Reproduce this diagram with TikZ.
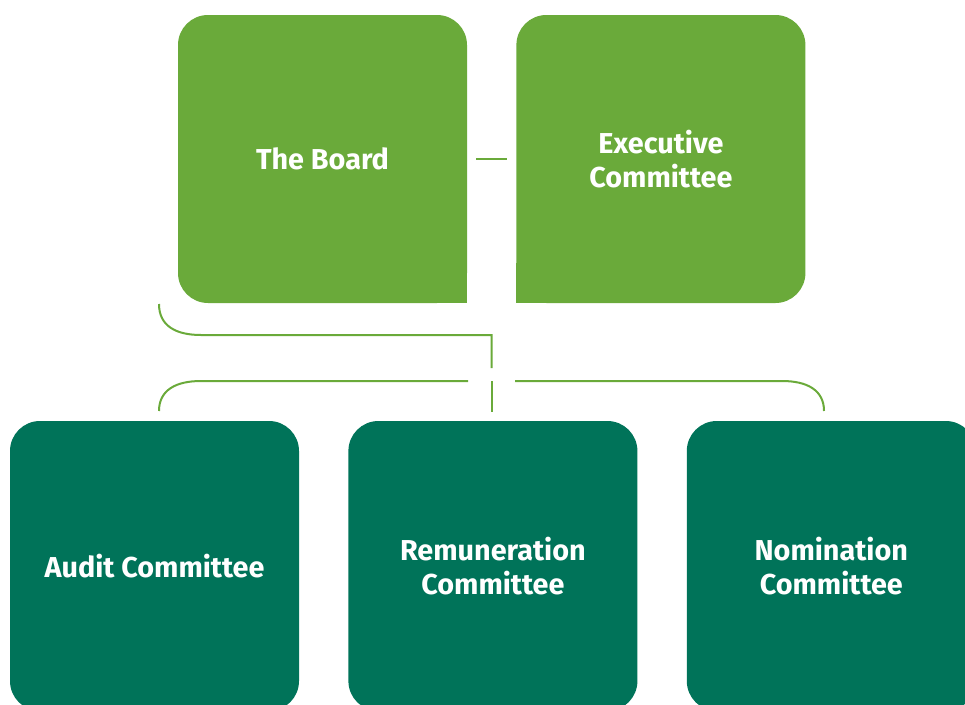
\documentclass[tikz,border=0pt]{standalone}
\usepackage{fontspec}
\setmainfont{Fira Sans}
\usepackage{xcolor}
\usepackage{tikz}
\usetikzlibrary{positioning}
\definecolor{boardgreen}{RGB}{106,170,58}
\definecolor{cttgreen}{RGB}{0,115,89}

\begin{document}
\begin{tikzpicture}[x=1pt, y=-1pt, node distance=49pt]
    \tikzstyle{topbox} = [rectangle, fill=boardgreen, text=white, align=center, rounded corners=30pt, minimum width=289pt, minimum height=288pt, inner sep=0pt, font=\fontsize{28.8}{34}\selectfont\bfseries]
    \tikzstyle{subbox} = [topbox, fill=cttgreen, minimum height=290pt]
    \tikzstyle{link} = [draw=boardgreen, line width=2pt]

    \useasboundingbox (0,0) rectangle (965,704);
    \clip (0,0) rectangle (965,704);

    \node [topbox] (board) at (322.5,159) {The Board};
    \node [topbox, right=of board] (exec) {Executive\\Committee};
    \fill [boardgreen] (board.south east) rectangle +(-40,-40);
    \fill [boardgreen] (exec.south west) rectangle +(40,-40);

    \node [subbox] (audit) at (154.5,566) {Audit Committee};
    \node [subbox, right=of audit] (remun) {Remuneration\\Committee};
    \node [subbox, right=of remun] (nomin) {Nomination\\Committee};

    % connector ends
    \coordinate (boardfoot) at (159,304);
    \coordinate (boardjoin) at (491.5,335);
    \coordinate (gapup) at (491.5,368);
    \coordinate (gapdown) at (491.5,381);
    \coordinate (remuntop) at (491.5,412);
    \coordinate (auditfoot) at (159,411);
    \coordinate (barleft) at (468,381);
    \coordinate (barright) at (515,381);
    \coordinate (nominfoot) at (824,411);

    \draw [link] ([xshift=9pt]board.east) -- ([xshift=-9pt]exec.west);
    \draw [link] (boardfoot) .. controls (159,326) and (176,335) .. (201,335) -- (boardjoin) -- (gapup);
    \draw [link] (gapdown) -- (remuntop);
    \draw [link] (auditfoot) .. controls (159,390) and (176,381) .. (201,381) -- (barleft);
    \draw [link] (barright) -- (782,381) .. controls (807,381) and (824,390) .. (nominfoot);
\end{tikzpicture}
\end{document}
